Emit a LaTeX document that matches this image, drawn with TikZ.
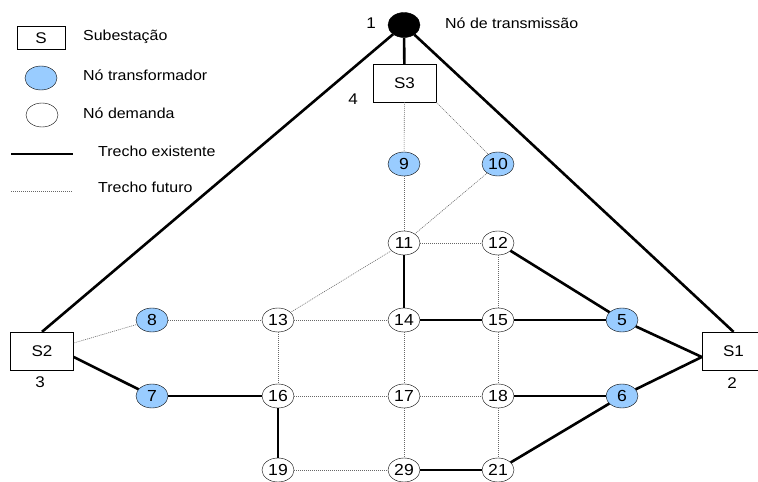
\documentclass[tikz,border=0pt]{standalone}
\usepackage{fontspec}
\setmainfont{Liberation Sans}[FakeStretch=1.1]
\usetikzlibrary{shapes.geometric}
\definecolor{lblue}{RGB}{153,204,255}
\tikzset{
  sub/.style={draw, thin, fill=white, minimum width=63pt, minimum height=38pt, inner sep=0pt, font=\fontsize{15.5}{16}\selectfont},
  trn/.style={draw, thin, ellipse, fill=lblue, minimum width=32pt, minimum height=24pt, inner sep=0pt, font=\fontsize{16}{16}\selectfont},
  dem/.style={draw, thin, ellipse, fill=white, minimum width=32pt, minimum height=24pt, inner sep=0pt, font=\fontsize{16}{16}\selectfont},
  tx/.style={draw, ellipse, fill=black, minimum width=32pt, minimum height=25pt, inner sep=0pt},
  lbl/.style={inner sep=0pt, anchor=west, font=\fontsize{14.5}{16}\selectfont},
  num/.style={inner sep=0pt, font=\fontsize{15.5}{16}\selectfont},
  exist/.style={line width=2.6pt},
  fut/.style={gray!80!black, line width=0.6pt, dash pattern=on 1pt off 1pt},
}
\begin{document}
\begin{tikzpicture}[x=1pt,y=-1pt]
\useasboundingbox (0,0) rectangle (758,482);
% legend
\node[sub, minimum width=48pt, minimum height=23pt] (legS) at (41,38) {S};
\node[lbl] (legSt) at (83,37) {Subestação};
\node[trn] (legT) at (41,78) {};
\node[lbl] (legTt) at (83,75) {Nó transformador};
\node[dem] (legD) at (42,115) {};
\node[lbl] (legDt) at (83,113) {Nó demanda};
\coordinate (le1) at (11,154);
\coordinate (le2) at (73,154);
\draw[exist] (le1) -- (le2);
\node[lbl] (legEt) at (98,151) {Trecho existente};
\coordinate (lf1) at (11,191);
\coordinate (lf2) at (73,191);
\draw[fut] (lf1) -- (lf2);
\node[lbl] (legFt) at (98,187) {Trecho futuro};

% nodes
\node[tx] (n1) at (404,25) {};
\node[num] (l1) at (371,23) {1};
\node[lbl] (l1t) at (445,23) {Nó de transmissão};
\node[sub] (S3) at (404.5,83) {S3};
\node[num] (l4) at (353,99) {4};
\node[sub] (S2) at (42,351) {S2};
\node[num] (l3) at (40,382) {3};
\node[sub] (S1) at (733.5,351) {S1};
\node[num] (l2) at (732,383) {2};

\node[trn] (n9) at (404,164) {9};
\node[trn] (n10) at (498,164) {10};
\node[dem] (n11) at (404,243) {11};
\node[dem] (n12) at (498,243) {12};
\node[trn] (n8) at (152,320) {8};
\node[dem] (n13) at (278,320) {13};
\node[dem] (n14) at (404,320) {14};
\node[dem] (n15) at (498,320) {15};
\node[trn] (n5) at (622,320) {5};
\node[trn] (n7) at (152,396) {7};
\node[dem] (n16) at (278,396) {16};
\node[dem] (n17) at (404,396) {17};
\node[dem] (n18) at (498,396) {18};
\node[trn] (n6) at (622,396) {6};
\node[dem] (n19) at (278,470) {19};
\node[dem] (n29) at (404,470) {29};
\node[dem] (n21) at (498,470) {21};

% existing
\draw[exist] (n1) -- (S2.north);
\draw[exist] (n1) -- (S1.north);
\draw[exist] (n1) -- (S3);
\draw[exist] ([yshift=-6pt]S2.east) -- (n7);
\draw[exist] (n7) -- (n16);
\draw[exist] (n16) -- (n19);
\draw[exist] (n11) -- (n14);
\draw[exist] (n14) -- (n15);
\draw[exist] (n15) -- (n5);
\draw[exist] (n12) -- (n5);
\draw[exist] (n5) -- ([yshift=-6pt]S1.west);
\draw[exist] (n6) -- ([yshift=-6pt]S1.west);
\draw[exist] (n18) -- (n6);
\draw[exist] (n29) -- (n21);
\draw[exist] (n21) -- (n6);
% future
\draw[fut] (S3) -- (n9);
\draw[fut] (S3.south east) -- (n10);
\draw[fut] (n9) -- (n11);
\draw[fut] (n10) -- (n11);
\draw[fut] (n11) -- (n12);
\draw[fut] (n11) -- (n13);
\draw[fut] (n12) -- (n15);
\draw[fut] ([yshift=8pt]S2.east) -- (n8);
\draw[fut] (n8) -- (n13);
\draw[fut] (n13) -- (n14);
\draw[fut] (n13) -- (n16);
\draw[fut] (n14) -- (n17);
\draw[fut] (n15) -- (n18);
\draw[fut] (n16) -- (n17);
\draw[fut] (n17) -- (n18);
\draw[fut] (n17) -- (n29);
\draw[fut] (n18) -- (n21);
\draw[fut] (n19) -- (n29);
\end{tikzpicture}
\end{document}
